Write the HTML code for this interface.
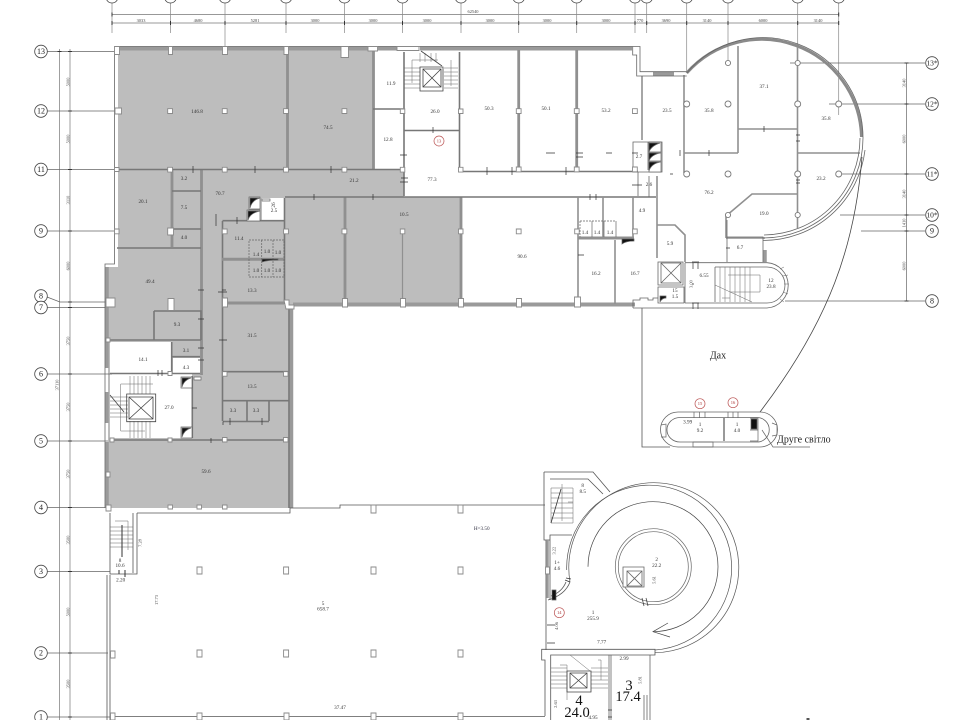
<!DOCTYPE html>
<html lang="uk"><head><meta charset="utf-8"><title>Floor plan</title>
<style>
html,body{margin:0;padding:0;background:#fff}
svg{display:block;position:absolute;left:0;top:0;filter:blur(.3px)}
text{font-family:"Liberation Serif",serif;text-anchor:middle;dominant-baseline:central;fill:#333;font-size:5.2px}
.b{font-size:8px;fill:#222}
.bs{font-size:7.5px;fill:#222}
.d{font-size:4.4px;fill:#444}
.r{fill:#a33;font-size:4.5px}
.k{font-size:14.5px;fill:#111}
.l{font-size:10px;fill:#222}
</style></head><body>
<svg width="960" height="720" viewBox="0 0 960 720" xmlns="http://www.w3.org/2000/svg">
<rect width="960" height="720" fill="#fff"/>

<!-- gray areas -->
<path fill="#bdbdbd" d="M118 50H373V170H404V197H461V305H293V508H108V267H118Z"/>
<g fill="#fff">
<path d="M110 342H171V373H192V376H192V438H110Z"/>
<rect x="173" y="358" width="27" height="16"/>
<rect x="262" y="198" width="22" height="22"/>
</g>

<!-- dimension grid, top -->
<g fill="none" stroke="#777" stroke-width=".7">
<path d="M112 14.5H839M112 23H839"/>
<path stroke="#888" d="M112 3V33M170.5 3V33M225 3V47M286 3V33M344.5 3V33M402.5 3V33M461 3V33M518.7 3V33M576.7 3V33M635 3V33M646.7 3V33M686.7 3V72M728 3V60M797.7 3V60M838.7 3V115"/>
<g fill="#fff" stroke="#444" stroke-width=".8">
<circle cx="112" cy="-3" r="6"/><circle cx="170.5" cy="-3" r="6"/><circle cx="225" cy="-3" r="6"/><circle cx="286" cy="-3" r="6"/><circle cx="344.5" cy="-3" r="6"/><circle cx="402.5" cy="-3" r="6"/><circle cx="461" cy="-3" r="6"/><circle cx="518.7" cy="-3" r="6"/><circle cx="576.7" cy="-3" r="6"/><circle cx="635" cy="-3" r="6"/><circle cx="646.7" cy="-3" r="6"/><circle cx="686.7" cy="-3" r="6"/><circle cx="728" cy="-3" r="6"/><circle cx="797.7" cy="-3" r="6"/><circle cx="838.7" cy="-3" r="6"/>
</g>
<!-- left dims -->
<path d="M59.5 49V720M70 49V720"/>
<path stroke="#666" d="M47.5 51.5H115M47.5 111H115M47.5 169.5H115M47.5 231H115M60 302H108M47 307.5H108M47.5 374H112M47.5 441H108M47.5 507.5H106M47.5 571.5H110M47.5 653H108M47.5 717H110M47 297L60 302"/>
<!-- right dims -->
<path stroke="#666" d="M906.5 63V301M790 63H925M829 104H925M840 174H925M840 215H925M861 231H925M785 301H925"/>
</g>
<path d="M57.5 51.5h4M68 51.5h4M68 111h4M68 169.5h4M68 231h4M68 302h4M68 307.5h4M68 374h4M68 441h4M68 507.5h4M68 571.5h4M68 653h4M68 717h4M904.5 63h4M904.5 104h4M904.5 174h4M904.5 215h4M904.5 231h4M904.5 301h4M112 12.5v4M112 21v4M170.5 21v4M225 21v4M286 21v4M344.5 21v4M402.5 21v4M461 21v4M518.7 21v4M576.7 21v4M635 21v4M646.7 21v4M686.7 21v4M728 21v4M797.7 21v4M838.7 21v4M838.7 12.5v4" stroke="#333" stroke-width="1" fill="none"/>
<g fill="#fff" stroke="#444" stroke-width=".8">
<circle cx="41" cy="51.5" r="6.3"/><circle cx="41" cy="111" r="6.3"/><circle cx="41" cy="169.5" r="6.3"/><circle cx="41" cy="231" r="6.3"/><circle cx="41" cy="296" r="6.3"/><circle cx="41" cy="307.5" r="6.3"/><circle cx="41" cy="374" r="6.3"/><circle cx="41" cy="441" r="6.3"/><circle cx="41" cy="507.5" r="6.3"/><circle cx="41" cy="571.5" r="6.3"/><circle cx="41" cy="653" r="6.3"/><circle cx="41" cy="717" r="6.3"/>
<circle cx="932" cy="63" r="6.3"/><circle cx="932" cy="104" r="6.3"/><circle cx="932" cy="174" r="6.3"/><circle cx="932" cy="215" r="6.3"/><circle cx="932" cy="231" r="6.3"/><circle cx="932" cy="301" r="6.3"/>
</g>
<g>
<text class="b" x="41" y="51.5">13</text><text class="b" x="41" y="111">12</text><text class="b" x="41" y="169.5">11</text><text class="b" x="41" y="231">9</text><text class="b" x="41" y="296">8</text><text class="b" x="41" y="307.5">7</text><text class="b" x="41" y="374">6</text><text class="b" x="41" y="441">5</text><text class="b" x="41" y="507.5">4</text><text class="b" x="41" y="571.5">3</text><text class="b" x="41" y="653">2</text><text class="b" x="41" y="717">1</text>
<text class="bs" x="932" y="63">13*</text><text class="bs" x="932" y="104">12*</text><text class="bs" x="932" y="174">11*</text><text class="bs" x="932" y="215">10*</text><text class="b" x="932" y="231">9</text><text class="b" x="932" y="301">8</text>
</g>
<g>
<text class="d" x="473" y="11.5">62540</text>
<text class="d" x="141" y="20.5">3033</text><text class="d" x="198" y="20.5">4680</text><text class="d" x="255" y="20.5">5281</text><text class="d" x="315" y="20.5">3000</text><text class="d" x="373" y="20.5">3000</text><text class="d" x="427" y="20.5">3000</text><text class="d" x="490" y="20.5">3000</text><text class="d" x="547" y="20.5">3000</text><text class="d" x="606" y="20.5">3000</text><text class="d" x="640" y="20.5">770</text><text class="d" x="666" y="20.5">3690</text><text class="d" x="707" y="20.5">3140</text><text class="d" x="763" y="20.5">6000</text><text class="d" x="818" y="20.5">3140</text>
<text class="d" transform="translate(68 82) rotate(-90)">5000</text><text class="d" transform="translate(68 139) rotate(-90)">5000</text><text class="d" transform="translate(68 200) rotate(-90)">3110</text><text class="d" transform="translate(68 266) rotate(-90)">6000</text><text class="d" transform="translate(68 341) rotate(-90)">3750</text><text class="d" transform="translate(68 407) rotate(-90)">3750</text><text class="d" transform="translate(68 474) rotate(-90)">3750</text><text class="d" transform="translate(68 540) rotate(-90)">3500</text><text class="d" transform="translate(68 612) rotate(-90)">5000</text><text class="d" transform="translate(68 684) rotate(-90)">3500</text>
<text class="d" transform="translate(57 385) rotate(-90)">37110</text>
<text class="d" transform="translate(904 83) rotate(-90)">3140</text><text class="d" transform="translate(904 139) rotate(-90)">6000</text><text class="d" transform="translate(904 194) rotate(-90)">3140</text><text class="d" transform="translate(904 223) rotate(-90)">1410</text><text class="d" transform="translate(904 266) rotate(-90)">6000</text>
</g>

<!-- thick outer walls -->
<g fill="none" stroke="#9a9a9a">
<path stroke-width="4" d="M115 48.5H368M378 48.5H397M420 48.5H632M293 304.5H635M653 74H674"/>
<path stroke-width="3.5" d="M107 267V368M107 392V423M107 442V507M291.5 305V508"/>
<path stroke="#8a8a8a" stroke-width="3" d="M686.7 73A100 100 0 0 1 861.5 137"/>
<path stroke-width="3.5" d="M765 250V262"/>
</g>
<!-- wall lines -->
<g fill="none" stroke="#909090" stroke-width="1.6">
<path stroke-width="2.8" d="M287.5 50V168M373.5 50V170M518.7 50V170M576.7 50V170M345 197V304M461 197V304M201.5 170V375M172 170V247"/>
<path stroke="#777" d="M117 169.5H404M461 171.5H638M285 197H656M404 52V196M459.5 52V170M404 130.5H459M373 109H403M172 191H201M172 229H201M117 248H201M222.5 221V421M222.5 220.7H284M284.5 198V304M289 305V508M110 440H289M110 340H201M154 311H201V340M154 311V340M171.7 342V374M172 356.7H200M110 373.5H200M192.3 376V438M223 371.7H289M223 400.7H289M247 401V421M269 401V421M223 421.5H269"/>
<path stroke-width="3" d="M222 303H284M222 259.3H284"/>
<path stroke-width="1.2" d="M402.5 230V304"/>
<path d="M578 197V305M603 197V238M633 197V238M615 240V304M642 76V140M684 75V173M738 46V153M797.5 47V228M738 129H797M684 153H738M798 153H860M726 238V216L752 194H797M726 238H765M657 176V258M657 225H675L685 235V262"/>
<path stroke-width="3" d="M578 238H634"/>
</g>
<!-- fine outlines -->
<g fill="none" stroke="#666" stroke-width=".8">
<path d="M114.500 50V264H105V508M115 46.500H640V71.700H686.700M632.700 46.500V55H636.700V76H686.700M633 142H662V172H633ZM648 142V170"/>
<path d="M763 238A100 100 0 0 0 863 138M764 235A97 97 0 0 0 860 138M763 240.500A102.500 102.500 0 0 0 865 150"/>
<path d="M686.700 73A100 100 0 0 1 863 138"/>
<path d="M638 172V196M649 197V176"/>
<path stroke="#555" d="M642 308V447H670"/>
<path stroke="#444" d="M862 157C855 245 830 320 760 412"/>
<path d="M685 262.700H767A22.700 22.700 0 0 1 767 308H633M685 303H767A18 18 0 0 0 767 267H715M685 262.700V303M715 267V302M727 220V262M727 237H763V262M633 308V300H640V298H648V300H653V298H658V303M658 262H683V285H658ZM661 263H681V283H661ZM661 263L681 283M681 263L661 283M658 287H684V303H658Z"/>
<path stroke-width=".5" d="M720 267V302M725 267V302M730 267V302M735 267V302M740 267V302M745 267V302M750 267V302M728 275H760V292H730M715 285L752 302M730 298H722"/>
<path stroke-width=".5" d="M780 269L784 267M783 276L788 275M784 284H789M783 292L788 294M780 299L784 302"/>
<path stroke="#333" stroke-width=".7" d="M693 263V269M698 263V269M693 303V309M698 303V309M692 262H699M692 303H699"/>
<path d="M678 412H760A17.500 17.500 0 0 1 760 447H678A17.500 17.500 0 0 1 678 412ZM680 417.500H757A12.200 12.200 0 0 1 757 442H680A13 12.200 0 0 1 680 417.500Z"/>
<path stroke="#999" stroke-width="2" d="M724 418V441"/>
<path stroke-width=".7" d="M694 412V418M705 412V418M699.500 412V418M728 412V418M738 412V418M733 412V418M693 442H713V447H693ZM661 425L666 424V437L661 437M772 423L777 425V435L772 436M750 418H758V441H750M750 430H758M762 430L773 447H810"/>

<!-- lower block -->
<path stroke="#555" d="M137 513H290V508H340V505H545M107 575V720M110 575V720M110 513V574H137V513M133 513V573M112 716.500H545M545 716V660H541.700V649.300H655V655H550.700V720M544 472H593L610 492M544 472V540H550V535H572M550 479H588L603 494M546 540V600M550 540V600M548 600Q565 595 570 582M551 596Q562 592 566 582M546 600V650"/>
<path stroke="#999" stroke-width="2.500" d="M547.500 540V598"/>
<path stroke="#555" stroke-width=".7" d="M655 652.700A85 85 0 1 0 570 582"/>
<path stroke="#555" stroke-width=".7" d="M655 650A82.500 82.500 0 1 0 566.700 570"/>
<path stroke="#444" stroke-width=".7" d="M588 566.700A65 65 0 1 1 653 631.700"/>
<path stroke="#444" stroke-width=".7" d="M668 623L653 631.700L670 637"/>
<circle cx="653.300" cy="566.700" r="38" stroke-width=".7"/><circle cx="653.300" cy="566.700" r="35" stroke-width=".7"/>
<path stroke="#333" stroke-width=".7" d="M642 598L644 606M646 598L648 606M565 580L570 582M566 578L571 579"/>
<path fill="#fff" stroke-width=".8" d="M623 567H644V587H623Z"/>
<path d="M627 571H642V586H627ZM627 571L642 586M642 571L627 586"/>
<path stroke-width=".5" d="M551 488H573V523H551ZM551 493H573M551 498H573M551 503H573M551 508H573M551 513H573M551 518H573M562 484V521M568 502H573"/>
<path stroke="#333" stroke-width=".8" d="M551 523L561 489"/>
<path stroke="#666" d="M650 655V720M609 655V720M611 655V720M644 695V720M647 695V720"/>
<path stroke-width=".5" d="M551 668H567M551 672H567M551 676H567M551 680H567M551 684H567M551 688H567M591 668H608M591 672H608M591 676H608M591 680H608M591 684H608M591 688H608M560 665H567V700M570 655L590 671M598 660H601V680"/>
<path stroke="#444" d="M567 671H591V692H567ZM570 673H587V688H570ZM570 673L587 688M587 673L570 688"/>
<path stroke="#333" stroke-width=".7" d="M547 625H555M547 643H555M608 710H612M608 717H612"/>
<path stroke-width=".5" d="M110 527H133M110 531H133M110 535H133M110 539H133M110 543H133M110 547H133M115 521H128V550"/>
<path stroke="#333" stroke-width="1" d="M122 525V557M125 570V577M119 570V574"/>
<path stroke-width=".5" d="M404 68H420M404 72H420M404 76H420M404 80H420M404 84H420M404 88H420M444 68H458M444 72H458M444 76H458M444 80H458M444 84H458M444 88H458M420 53V62M425 53V62M431 53V62M436 53V62M412 60H438M412 60V83M451 60V86"/>
<path stroke="#444" d="M421 51L442 66M420 67H443V91H420ZM423 69H441V87H423ZM423 69L441 87M441 69L423 87"/>
<path stroke-width=".5" d="M110 397H128M110 401H128M110 405H128M110 409H128M110 413H128M110 417H128M130 376V394M134 376V394M138 376V394M142 376V394M146 376V394M150 376V394M130 421V438M134 421V438M138 421V438M142 421V438M146 421V438M150 421V438M120.700 384H153M120.700 384V431H145"/>
<path stroke="#444" d="M110 395L124 412M126.700 394H155.700V421.700H126.700ZM129 397H153V419H129ZM129 397L153 419M153 397L129 419"/>
<path stroke-width=".7" stroke-dasharray="2 1" d="M249 240H284V277H249ZM261.700 240V277M273 240V277M580 221H616M580 221V237"/>
<path stroke-width=".7" d="M592 221V237M604 221V237M616 221V237"/>
<path stroke="#333" stroke-width=".7" d="M193 166V173M255 166V173M331 166V173M314 194V200M373 194V200M401 178H408M400 182H408M400 155H407M433 127V133M487 167V175M566 167V175M546 153H555M590 194V200M512 167V175M632 153H638M606 153H612M680 150V156M632 185H642M709 150V156M764 126V132M796 135H800M796 141H800M796 183H800M796 180H800M216 214V226M222 290H226M218 292H227M219 340H227M198 290H204M198 319H204M198 348H204M198 360H204M162 370V376M158 370V376M192 408H197M223 421.500V425M211 438V443M230 418V425M262 418V425M237 217V224"/>
<path stroke="#333" stroke-width=".7" d="M576 153H583M576 157H583M596 194V200M670 174H673M578 255H584M692 284H694M726 248H730"/>
</g>

<!-- stair black shafts -->
<g fill="#111" stroke="#666" stroke-width=".7">
<path fill="#fff" d="M249 197H260V209H249ZM247 210H260V221H247ZM649 142H661V153H649ZM649 152H661V162H649ZM649 161H661V172H649ZM181 377H192V388H181ZM181 427H192V438H181ZM194 377H201V380H194ZM262 199H270V201H262Z"/>
<path d="M250 208V198H260Q252 200 250 208ZM248 220V211H260Q250 213 248 220ZM649 152V143H660Q651 146 649 152ZM649 161V153H660Q651 155 649 161ZM649 171V162H660Q651 164 649 171ZM182 387V378H191Q184 380 182 387ZM182 437V428H191Q184 430 182 437ZM622 244V239H634V241Q626 241 622 244ZM660 302V296H666V298Q662 298 660 302ZM262 262V259H278V260Q268 260 262 262ZM751 419H757V429H751ZM552 600V590H556V600Z"/>
</g>

<!-- columns -->
<path fill="#fff" stroke="#8a8a8a" stroke-width=".9" d="
M114.500 46.500h5v8h-5zM168.500 46.500h4v8h-4zM222.500 46.500h5v8h-5zM284 46.500h4.500v8h-4.500zM341 46.500h7.500v11h-7.500zM368 46.500h9.500v4.500h-9.500zM397 46.500h22v4h-22z
M115 108h6.500v6h-6.500zM167.700 108.700h4.800v4.800h-4.800zM222.300 108.700h4.800v4.800h-4.800zM283.600 108.700h4.800v4.800h-4.800zM342 108.700h4.800v4.800h-4.800zM400.300 109h4.500v4.500h-4.500zM458.500 109h4.500v4.500h-4.500zM516.300 108.700h4.800v4.800h-4.800zM574.300 108.700h4.800v4.800h-4.800zM632.500 108.700h4.800v4.800h-4.800z
M114.500 167.500h4.500v4h-4.500zM167.700 167.300h4.800v4.800h-4.800zM222.300 167.300h4.800v4.800h-4.800zM283.600 167.300h4.800v4.800h-4.800zM342 167.300h4.800v4.800h-4.800zM400.300 167.300h4.500v4.800h-4.500zM458.500 167.300h4.500v4.800h-4.500zM516.300 167h4.800v4.800h-4.800zM574.300 167h4.800v4.800h-4.800zM632.500 167h4.800v4.800h-4.800z
M114.500 229h4.500v4.800h-4.500zM167.700 228h5.800v7h-5.800zM222.300 229h4.800v4.800h-4.800zM283.600 229h4.800v4.800h-4.800zM342 229h4.800v4.800h-4.800zM400.300 229h4.500v4.800h-4.500zM458.500 229h4.500v4.800h-4.500zM516.300 229h4.800v4.800h-4.800zM574.700 229h4.500v4.800h-4.500zM632.700 229h4.500v4.800h-4.500z
M106 298h9v9h-9zM168 298.500h6v12h-6zM222.500 298h5v9h-5zM284 300h5v5h5v4h-8zM342.500 298.500h5v8.500h-5zM400.500 298.500h5v8.500h-5zM458.500 298.500h5v8.500h-5zM516.500 298.500h5v8.500h-5zM574.500 297h6v10h-6z
M106 338h4v4h-4zM222.500 371.700h4.500v4.500h-4.500zM283.500 371.700h4.500v4.500h-4.500zM168 371.500h4v4h-4zM222.500 437.500h4.500v4.500h-4.500zM283.500 437.500h4.500v4.500h-4.500zM168 438h4v4h-4zM110 438h4v4h-4zM106 472h4v5h-4zM168 505h4.500v4h-4.500zM197 505h4.500v4h-4.500zM222.500 505h4.500v4h-4.500zM106 505h5v6h-5z
M110.500 651h4.500v7h-4.500zM110.500 713h4.500v7h-4.500zM197 567h5v7h-5zM197 650h5v7h-5zM197 713h5v7h-5zM283.600 567h5v7h-5zM283.600 650h5v7h-5zM284 713h5v7h-5zM371 505h5v8h-5zM371 567h5v7h-5zM371 650h5v7h-5zM371 713h5v7h-5zM458 505h5v8h-5zM458 567h5v7h-5zM458 650h5v7h-5zM458 713h5v7h-5zM545.500 567h4v7h-4z"/>
<g fill="#fff" stroke="#7a7a7a" stroke-width=".9">
<circle cx="686.700" cy="104" r="3"/><circle cx="728" cy="63" r="2.600"/><circle cx="728" cy="104" r="3"/><circle cx="797.700" cy="63" r="2.600"/><circle cx="797.700" cy="104" r="3"/><circle cx="838.700" cy="104" r="3"/><circle cx="686.700" cy="174" r="3"/><circle cx="728" cy="174" r="3"/><circle cx="797.700" cy="174" r="3"/><circle cx="838.700" cy="174" r="3"/><circle cx="728" cy="215" r="2.600"/><circle cx="797.700" cy="215" r="2.600"/>
</g>

<!-- red markers -->
<g fill="none" stroke="#b55" stroke-width=".7">
<circle cx="439" cy="141" r="5"/><circle cx="700" cy="403.700" r="5"/><circle cx="733" cy="402.700" r="5"/><circle cx="559.300" cy="612.700" r="5"/>
</g>
<text class="r" x="439" y="141">13</text><text class="r" x="700" y="403.700">15</text><text class="r" x="733" y="402.700">16</text><text class="r" x="559.300" y="612.700">14</text>

<!-- room labels -->
<g>
<text x="197" y="112">146.8</text><text x="328" y="128">74.5</text><text x="391" y="84">11.9</text><text x="435" y="112">26.0</text><text x="388" y="140">12.8</text><text x="432" y="180">77.3</text><text x="354" y="181">21.2</text><text x="184" y="179">3.2</text><text x="184" y="208">7.5</text><text x="184" y="238">4.0</text><text x="143" y="202">20.1</text><text x="220" y="194">70.7</text>
<text x="274" y="211">2.5</text><text x="274" y="205" transform="rotate(-90 274 205)">26</text>
<text x="239" y="239">11.4</text><text x="404" y="215">10.5</text>
<text x="489" y="109">50.3</text><text x="546" y="109">50.1</text><text x="606" y="111">53.2</text><text x="667" y="111">23.5</text><text x="709" y="111">35.8</text><text x="764" y="87">37.1</text><text x="826" y="119">35.8</text><text x="821" y="179">23.2</text><text x="709" y="193">76.2</text><text x="764" y="214">19.0</text><text x="639" y="157">2.7</text><text x="649" y="185">2.6</text><text x="642" y="211">4.9</text><text x="585" y="233">1.4</text><text x="597" y="233">1.4</text><text x="610" y="233">1.4</text>
<text x="522" y="257">90.6</text><text x="596" y="274">16.2</text><text x="635" y="274">16.7</text>
<text x="670" y="244">5.9</text><text x="740" y="248">6.7</text><text x="704" y="276">6.55</text><text class="d" transform="translate(691 284) rotate(-90)">3.00</text>
<text x="771" y="281">12</text><text x="771" y="287">23.8</text>
<text x="675" y="291">15</text><text x="675" y="297">1.5</text>
<text x="150" y="282">49.4</text><text x="177" y="325">9.3</text><text x="143" y="360">14.1</text><text x="186" y="351">3.1</text><text x="186" y="368">4.3</text><text x="169" y="408">27.0</text><text x="252" y="291">13.3</text><text x="252" y="336">31.5</text><text x="252" y="387">13.5</text><text x="233" y="411">3.3</text><text x="256" y="411">3.3</text><text x="206" y="472">59.6</text>
<text x="256" y="255">1.4</text><text x="267" y="252">1.0</text><text x="278" y="253">1.0</text><text x="256" y="271">1.0</text><text x="267" y="271">1.0</text><text x="278" y="271">1.0</text>
<text x="687.700" y="422.300">3.99</text><text x="700" y="425">1</text><text x="700" y="431">9.2</text><text x="737" y="425">1</text><text x="737" y="431">4.0</text>
<text class="l" x="718" y="356">Дах</text>
<text class="l" x="777" y="440" style="text-anchor:start">Друге світло</text>
<text x="481.700" y="529" style="fill:#334">H=3.50</text>
<text x="340" y="708">37.47</text>
<text x="323" y="604">5</text><text x="323" y="609.500">658.7</text>
<text class="d" transform="translate(156.700 600) rotate(-90)">17.73</text>
<text class="d" transform="translate(140 543) rotate(-90)">7.28</text>
<text x="120" y="561">8</text><text x="120" y="566">10.6</text><text x="120.700" y="580.700">2.20</text>
<text x="601.700" y="642.700">7.77</text><text class="d" transform="translate(556.700 626) rotate(-90)">4.06</text>
<text x="593" y="613">1</text><text x="593" y="619">255.9</text><text x="656.700" y="560">2</text><text x="656.700" y="566">22.2</text>
<text class="d" transform="translate(654 580) rotate(-90)">5.61</text>
<text x="557" y="563">1+</text><text x="557" y="569">4.6</text><text class="d" transform="translate(554 550.700) rotate(-90)">3.22</text>
<text x="582.700" y="486">8</text><text x="582.700" y="492">8.5</text>
<text class="k" x="579" y="701">4</text><text class="k" x="577" y="713">24.0</text><text class="k" x="629" y="686">3</text><text class="k" x="628" y="697">17.4</text>
<text x="593" y="718">4.95</text><text x="624" y="659">2.99</text><text class="d" transform="translate(640 680) rotate(-90)">5.81</text><text class="d" transform="translate(555.700 704) rotate(-90)">2.63</text>
</g>
<path fill="#555" d="M806.500 718h3v2h-3z"/>
</svg>
</body></html>
